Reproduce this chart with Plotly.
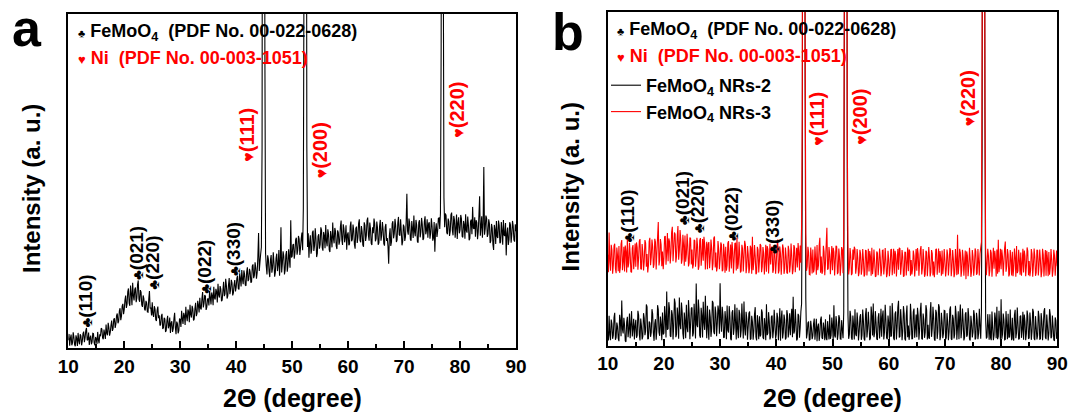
import plotly.graph_objects as go

FONT = "Liberation Sans, Arial, sans-serif"

# sampled 2-theta grid (degrees), 0.125 deg step from 10 to 90
TWO_THETA = [round(10 + 0.125 * i, 3) for i in range(641)]

# panel a : FeMoO4 NRs on Ni (a.u.), one row per 5 degrees
A_INTENSITY = [
    2.4,4.3, 0.8,3.0, 4.1,0.9, 1.6,4.8, 3.3,1.1, 0.6,3.9, 2.9,0.7, 4.6,2.3, 1.2,4.2, 3.7,0.9, 2.1,4.4, 5.0,1.8, 3.2,5.3, 6.1,2.4, 2.6,4.7, 1.0,3.1, 3.8,1.2, 1.9,4.5, 4.4,1.6, 0.9,3.4,
    2.8,1.3, 4.9,2.6, 1.5,4.2, 3.6,6.0, 5.8,3.1, 2.7,5.6, 4.4,2.8, 7.1,4.5, 3.9,7.6, 6.2,3.8, 4.8,6.9, 8.3,5.2, 5.9,8.7, 9.0,6.1, 7.2,9.8, 10.4,7.5, 8.1,11.2, 12.0,8.4, 9.6,12.6, 13.3,10.2,
    11.6,14.4, 15.8,12.1, 13.2,16.9, 17.9,13.5, 12.7,18.8, 16.4,12.9, 19.6,15.7, 14.3,17.6, 18.2,13.8, 15.0,19.1, 20.3,14.6, 13.9,17.4, 16.8,13.0, 12.4,15.8, 14.9,11.7, 11.3,14.2, 13.6,10.9, 10.8,14.7, 17.1,11.9, 12.2,9.8,
    13.8,10.2, 9.4,12.6, 11.7,8.6, 8.2,11.4, 12.5,9.0, 9.9,6.8, 7.1,9.6, 10.3,5.8, 6.2,9.1, 8.8,4.9, 5.4,8.3, 9.7,6.0, 6.8,9.2, 4.6,7.5, 8.1,4.9, 5.9,8.8, 10.6,6.3, 4.2,8.0, 7.4,4.5, 5.3,8.9,
    8.6,6.4, 11.2,8.9, 7.3,10.6, 9.8,7.0, 12.4,9.5, 8.1,11.6, 10.9,7.8, 13.0,10.1, 9.2,12.7, 11.8,8.3, 8.7,11.9, 13.6,9.6, 10.4,14.2, 12.9,10.7, 15.1,12.0, 11.6,14.8, 16.8,12.2, 13.4,15.9, 15.6,11.5, 12.3,14.7,
    14.9,12.8, 17.2,15.3, 13.1,16.7, 15.8,12.9, 18.4,15.1, 14.6,17.8, 16.9,13.7, 19.3,16.0, 15.2,18.6, 17.7,14.1, 14.4,17.3, 19.9,15.6, 16.3,20.8, 18.8,14.9, 15.7,18.9, 21.0,16.2, 17.4,20.5, 19.6,15.8, 16.6,19.1, 20.4,17.0,
    18.3,21.0, 21.7,17.9, 17.6,22.4, 20.9,18.5, 23.4,20.7, 19.2,23.3, 22.1,18.9, 18.7,22.9, 24.2,20.1, 20.6,23.8, 22.8,19.6, 19.9,24.6, 25.1,21.0, 21.8,25.7, 24.0,20.8, 22.6,27.4, 34.5,23.1, 25.8,28.2, 30.2,60, 260,280,
    240,90, 28.4,24.6, 22.1,27.8, 26.7,22.9, 21.3,26.5, 27.9,22.6, 24.0,28.7, 25.6,21.4, 22.8,27.0, 28.3,23.1, 24.9,29.4, 21.7,26.2, 36.2,22.7, 25.3,29.0, 27.6,22.1, 23.4,28.0, 29.1,22.9, 24.7,29.6, 26.8,24.1, 38.3,27.2,
    27.5,30.9, 31.2,26.8, 28.6,32.5, 33.1,28.0, 29.4,33.6, 32.7,27.9, 30.1,32.8, 34.6,29.3, 42.0,120, 250,270, 230,60, 30.3,34.4, 27.1,31.6, 33.8,28.3, 29.6,34.7, 35.2,29.1, 30.8,35.9, 32.9,27.3, 28.4,33.5, 34.1,29.8,
    31.0,36.2, 35.4,30.1, 29.2,34.8, 33.7,29.9, 36.9,32.0, 30.5,35.6, 34.2,29.4, 28.8,35.1, 33.0,30.2, 37.6,32.9, 31.4,36.0, 35.0,30.6, 29.7,35.3, 34.6,31.0, 32.1,36.4, 38.2,32.5, 30.9,37.1, 35.8,31.7, 33.3,36.8, 29.5,34.0,
    34.7,30.8, 31.2,36.5, 37.9,32.0, 32.6,37.0, 35.3,31.1, 29.8,35.9, 36.4,31.5, 33.1,37.4, 38.6,32.3, 31.7,36.6, 34.9,30.9, 30.4,37.7, 36.8,32.1, 33.6,38.2, 39.1,33.8, 32.2,37.6, 35.7,31.4, 30.9,36.2, 34.4,38.8, 37.3,32.0,
    32.8,37.9, 36.1,31.0, 31.5,36.6, 38.4,32.2, 33.9,37.8, 35.6,31.3, 30.7,36.3, 37.2,32.1, 33.0,30.4, 25.3,33.7, 35.9,30.6, 31.8,37.3, 38.0,32.9, 34.3,38.7, 36.7,31.8, 32.4,37.5, 39.3,34.0, 33.7,38.6, 35.1,30.8, 31.9,37.0,
    36.3,32.1, 33.4,38.0, 46.2,35.0, 34.0,38.8, 37.5,32.6, 32.2,38.1, 35.8,33.0, 39.7,34.9, 33.5,38.4, 36.9,32.0, 31.6,37.6, 38.3,33.2, 34.8,39.0, 37.1,32.4, 32.9,37.9, 39.5,34.1, 35.2,38.6, 33.1,37.2, 37.7,32.8, 34.5,38.9,
    36.6,32.2, 33.0,37.8, 28.9,35.5, 37.4,33.3, 35.1,38.9, 39.0,35.7, 40.5,90, 250,240, 120,45, 36.2,40.3, 39.8,34.6, 34.1,38.8, 37.9,33.6, 35.0,39.9, 40.6,35.3, 33.8,39.6, 38.4,33.1, 36.0,40.0, 32.7,37.6, 39.2,34.4,
    35.4,39.9, 38.7,33.5, 33.2,38.1, 37.0,32.8, 40.1,35.2, 34.6,39.4, 36.8,32.3, 32.9,38.0, 38.5,34.1, 42.3,36.0, 35.7,39.2, 33.4,38.3, 37.6,32.6, 34.9,39.8, 45.5,33.7, 36.3,39.5, 33.1,37.4, 54.2,34.0, 35.8,39.7, 38.9,33.3,
    34.2,38.6, 37.3,31.5, 32.1,37.2, 36.0,31.1, 29.4,36.9, 35.5,31.2, 38.1,33.4, 33.0,38.2, 36.7,31.4, 31.8,37.8, 35.2,31.0, 38.4,33.9, 33.6,37.5, 27.8,34.3, 36.1,30.9, 32.5,37.7, 37.0,31.6, 34.0,38.1, 36.6,32.4, 31.9,37.1,
    35.0,
]

# panel b : FeMoO4 NRs-2 (black)
B_NRS2 = [
    4.2,1.5, 8.9,3.2, 1.6,7.8, 6.5,2.0, 3.1,8.4, 9.8,1.7, 2.4,6.9, 5.7,2.1, 1.3,9.2, 7.4,2.8, 13.5,4.9, 3.6,8.3, 6.1,1.4, 1.1,7.0, 8.6,2.5, 4.8,9.6, 2.2,6.4, 10.3,2.7, 5.2,8.0, 1.8,6.0,
    7.7,2.3, 3.0,10.4, 9.1,3.4, 1.5,8.1, 5.9,1.8, 2.7,9.7, 8.2,3.1, 4.4,12.3, 11.6,1.9, 2.1,7.2, 6.8,2.6, 3.9,10.9, 9.5,3.8, 1.4,6.6, 7.9,1.7, 4.6,12.1, 10.8,4.0, 2.9,8.7, 6.3,1.6, 9.9,3.3,
    3.7,11.8, 8.4,2.4, 16.2,4.7, 5.1,13.0, 11.0,2.9, 2.6,10.6, 9.3,1.8, 6.0,14.1, 12.7,2.5, 3.3,11.4, 8.8,2.0, 14.4,6.3, 4.9,12.9, 10.1,3.6, 1.9,9.9, 7.5,2.2, 12.2,5.3, 4.0,13.6, 9.6,1.9, 6.4,11.2,
    11.4,2.7, 3.8,12.5, 8.0,2.1, 18.6,6.2, 5.5,13.8, 10.7,3.0, 2.3,11.3, 9.0,2.4, 13.1,6.8, 4.7,14.9, 7.2,2.2, 11.9,5.4, 1.7,10.8, 8.5,2.6, 5.0,13.4, 12.8,4.1, 3.4,11.7, 9.7,2.8, 6.6,12.0, 10.4,3.5,
    18.7,7.4, 4.1,11.6, 9.2,2.3, 2.5,10.3, 7.8,1.9, 12.0,4.6, 3.9,11.8, 8.7,2.0, 1.6,9.9, 10.6,3.2, 5.3,12.4, 7.0,1.8, 11.3,4.7, 2.2,10.7, 9.4,2.4, 4.5,12.6, 6.9,2.1, 13.2,5.0, 3.0,10.1, 8.1,1.7,
    5.6,9.6, 10.2,1.8, 2.0,8.9, 7.1,1.7, 4.3,9.4, 11.5,2.6, 1.5,9.1, 6.4,1.9, 8.8,2.7, 3.2,10.8, 9.9,2.4, 1.9,8.2, 5.8,1.6, 12.4,3.1, 3.7,10.0, 7.3,1.8, 2.8,8.6, 9.0,2.2, 4.6,10.7, 6.7,2.0,
    3.4,9.8, 8.3,1.6, 5.9,11.2, 1.4,7.9, 10.5,2.1, 4.0,9.3, 7.6,1.8, 2.3,10.6, 9.1,2.4, 5.0,9.7, 3.1,8.0, 11.0,2.5, 14.6,3.6, 4.4,10.9, 6.8,1.5, 2.0,9.5, 8.9,2.3, 5.3,10.2, 12.5,50, 250,280,
    240,80, 14.0,2.1, 3.6,6.8, 7.2,1.5, 1.8,7.4, 5.4,1.9, 2.9,6.5, 8.1,1.7, 4.5,8.0, 1.3,5.6, 6.6,1.4, 3.2,7.7, 8.7,2.3, 2.0,6.9, 5.1,1.6, 7.9,2.2, 1.6,7.3, 4.3,1.8, 9.3,2.0, 3.0,8.4,
    5.8,1.6, 12.1,3.0, 2.4,8.8, 6.9,1.7, 3.5,9.1, 8.2,2.0, 1.9,7.6, 4.7,2.2, 10.0,110, 250,270, 230,50, 9.2,2.0, 3.3,10.4, 8.6,2.3, 1.7,9.0, 6.2,1.8, 10.9,3.4, 2.8,9.9, 7.0,1.5, 4.1,8.5,
    9.4,1.7, 3.1,10.8, 7.5,2.0, 1.5,9.3, 11.2,2.4, 4.9,10.1, 6.3,1.6, 2.2,11.7, 8.9,3.0, 12.6,2.5, 3.8,10.3, 7.0,1.9, 1.8,8.4, 9.7,2.1, 5.2,11.0, 2.6,8.7, 10.5,1.8, 4.0,12.2, 7.8,2.3, 1.9,9.0,
    6.7,1.9, 11.9,2.6, 3.0,12.7, 8.4,2.2, 1.6,9.5, 10.2,1.8, 5.5,11.4, 13.4,2.4, 2.7,10.9, 7.3,1.6, 4.2,11.8, 9.6,2.0, 1.5,8.9, 12.0,2.5, 6.0,1.7, 3.4,12.5, 8.8,1.9, 2.1,10.0, 11.1,2.3, 5.0,9.3,
    2.5,11.3, 9.0,1.7, 4.6,10.4, 12.8,2.1, 1.8,9.6, 7.7,2.3, 3.9,12.1, 10.6,1.8, 6.2,2.4, 2.0,9.9, 13.0,2.6, 5.1,11.6, 8.2,1.9, 1.4,10.7, 9.8,2.0, 4.3,12.4, 11.5,1.6, 2.9,9.8, 7.1,2.2, 3.6,10.5,
    10.4,1.8, 2.3,9.7, 6.9,1.6, 4.1,10.8, 11.7,2.0, 1.7,9.2, 8.0,2.1, 3.5,11.9, 9.3,1.7, 5.6,10.3, 1.9,8.6, 12.3,2.2, 4.8,11.1, 7.4,1.5, 2.4,9.4, 10.0,2.6, 3.2,11.2, 8.5,1.9, 1.5,8.9, 6.6,2.4,
    4.0,10.6, 9.1,1.8, 2.2,9.8, 7.6,1.9, 3.7,11.0, 5.8,2.0, 10.2,60, 250,280, 200,70, 7.9,2.1, 2.5,9.4, 6.0,1.7, 9.4,2.3, 1.6,10.2, 5.3,1.6, 3.0,9.9, 8.1,2.2, 11.6,1.9, 2.7,10.4, 6.4,1.8,
    13.9,2.0, 3.3,9.6, 7.7,1.7, 1.8,10.3, 5.9,1.9, 9.5,2.4, 2.6,10.8, 4.4,1.6, 8.3,2.1, 1.5,9.1, 10.7,2.2, 3.9,11.4, 6.5,1.8, 2.1,8.7, 9.0,2.3, 4.7,10.1, 1.7,9.3, 7.2,1.6, 3.6,10.5, 8.8,2.0,
    2.3,9.9, 6.9,1.7, 4.2,11.0, 10.1,2.1, 1.6,8.8, 5.5,1.8, 3.1,10.4, 8.6,1.9, 2.0,9.7, 7.3,1.6, 4.8,10.2, 11.2,2.4, 1.9,9.3, 6.0,1.5, 3.5,10.9, 9.2,2.2, 2.6,9.0, 5.8,1.7, 1.4,8.4, 7.5,2.0,
    3.9,
]

# panel b : FeMoO4 NRs-3 (red)
B_NRS3 = [
    27.2,22.0, 33.9,25.1, 22.4,30.2, 28.6,21.5, 24.1,29.9, 30.5,23.0, 21.7,29.4, 26.9,22.3, 29.8,21.8, 23.3,30.4, 31.6,22.6, 25.0,29.6, 22.2,30.0, 28.1,21.9, 32.4,23.4, 24.7,30.8, 27.5,22.1, 21.9,29.2, 30.1,22.9, 25.8,30.6,
    23.6,30.9, 29.4,22.7, 26.2,31.3, 31.9,23.0, 22.8,30.4, 28.0,22.5, 25.1,31.6, 30.7,23.6, 27.4,21.9, 23.9,31.2, 32.3,24.1, 26.5,31.8, 29.7,23.3, 24.4,32.0, 31.0,22.8, 27.8,32.5, 37.0,24.0, 25.6,31.9, 30.3,23.8, 28.2,22.9,
    26.1,32.6, 32.8,24.2, 28.0,33.7, 25.3,32.1, 31.2,24.6, 27.6,34.0, 35.6,25.3, 29.1,33.9, 33.4,24.9, 26.7,32.8, 35.8,25.7, 28.5,34.6, 31.7,24.5, 25.9,33.2, 30.2,23.9, 33.0,25.1, 27.3,33.5, 29.9,23.7, 24.8,32.4, 32.1,24.3,
    28.8,23.1, 24.2,31.7, 31.4,23.6, 26.6,32.3, 29.5,22.7, 23.8,31.5, 32.2,23.9, 27.0,31.9, 25.4,32.6, 30.6,22.8, 28.3,31.1, 22.9,30.4, 31.0,23.2, 26.1,31.8, 29.2,22.6, 24.6,32.2, 32.7,23.4, 27.9,22.2, 23.5,31.3, 28.9,22.9,
    25.7,30.9, 30.2,22.3, 22.6,30.5, 27.8,21.8, 29.6,22.4, 24.0,30.7, 31.3,22.1, 26.2,30.3, 23.1,31.0, 28.4,21.6, 25.9,30.6, 30.8,22.5, 32.4,23.0, 24.5,31.1, 27.1,21.9, 22.4,30.2, 29.0,22.2, 26.6,31.4, 30.1,21.7, 23.7,29.8,
    27.4,21.7, 23.2,29.9, 29.3,21.5, 32.6,22.6, 24.8,30.1, 26.9,21.4, 21.8,29.6, 28.7,21.9, 25.3,30.4, 30.0,22.0, 23.6,29.5, 27.7,21.3, 25.0,30.2, 22.1,29.8, 28.9,21.6, 26.0,30.5, 24.3,29.2, 29.7,21.8, 22.7,30.0, 27.2,21.5,
    24.9,29.8, 31.8,21.6, 22.5,29.7, 27.6,21.2, 25.4,30.3, 29.1,21.5, 23.0,29.4, 26.8,21.8, 21.7,29.9, 28.5,21.9, 24.2,30.6, 27.0,21.4, 22.8,30.1, 29.4,22.0, 25.6,29.3, 23.4,30.7, 27.9,22.5, 30.0,24.8, 36.0,70, 260,290,
    250,95, 33.5,22.4, 23.7,29.6, 27.9,21.3, 21.2,29.4, 26.3,21.6, 28.8,21.9, 22.9,29.7, 25.8,21.2, 30.1,22.6, 24.0,30.0, 32.3,21.8, 26.7,21.5, 22.2,29.9, 28.1,21.1, 24.6,30.3, 35.3,22.7, 23.1,29.5, 27.3,21.4, 25.5,29.8,
    22.6,29.3, 28.0,21.0, 25.2,29.9, 29.6,21.4, 21.9,29.1, 26.5,20.9, 24.1,29.5, 28.7,21.7, 33.0,120, 250,280, 240,65, 30.5,21.3, 23.4,29.2, 27.0,21.1, 21.6,28.8, 25.7,29.6, 28.9,21.5, 23.3,28.9, 26.2,20.8, 22.0,28.7,
    27.5,21.2, 23.0,28.9, 25.9,20.7, 21.3,28.6, 28.4,21.0, 24.6,29.0, 22.2,28.3, 26.8,20.9, 29.3,21.4, 23.6,28.8, 25.1,20.6, 20.8,28.2, 27.7,21.1, 24.0,29.1, 26.4,20.8, 22.5,28.5, 28.6,21.3, 23.8,29.2, 25.4,20.5, 21.6,28.4,
    26.0,20.8, 23.1,28.7, 28.9,21.1, 24.4,29.0, 21.5,28.4, 27.2,20.7, 25.0,28.9, 22.7,29.3, 29.1,21.2, 23.9,28.6, 26.6,20.6, 20.9,28.1, 27.9,21.0, 24.8,29.4, 22.3,28.8, 28.2,20.9, 25.6,21.3, 23.0,28.5, 26.9,20.7, 24.1,28.9,
    22.4,29.2, 27.4,20.9, 24.9,28.7, 29.8,21.3, 23.2,28.9, 25.7,20.6, 21.4,28.4, 28.0,20.8, 24.3,29.5, 26.5,20.7, 22.0,28.6, 27.6,21.0, 25.2,20.5, 23.5,28.8, 29.0,21.2, 24.7,29.1, 21.8,28.3, 26.3,20.9, 28.5,21.4, 23.7,28.9,
    25.5,20.7, 22.8,28.8, 27.1,21.0, 24.2,29.2, 28.6,20.8, 23.3,28.6, 26.0,20.5, 21.6,28.9, 25.3,21.1, 33.2,21.4, 24.0,29.0, 27.8,20.6, 22.6,28.7, 26.4,20.9, 24.8,28.5, 19.9,28.2, 27.0,20.8, 23.6,29.3, 25.8,20.6, 22.1,28.6,
    26.7,20.9, 23.4,29.1, 28.2,21.2, 21.7,28.9, 25.0,21.0, 27.5,29.4, 31.0,90, 250,290, 200,75, 28.6,21.1, 24.3,29.0, 26.9,20.8, 22.5,28.7, 27.7,20.6, 24.9,29.3, 23.0,28.4, 26.1,20.7, 28.8,21.5, 31.7,22.0, 24.2,29.0,
    22.9,28.8, 26.6,20.9, 25.1,29.2, 31.2,22.1, 23.7,28.9, 27.3,20.7, 21.5,28.6, 25.9,21.0, 28.1,20.8, 23.2,29.1, 26.4,20.6, 29.8,21.7, 22.4,28.7, 25.6,21.2, 27.9,20.9, 24.5,29.0, 21.9,28.5, 26.8,20.8, 23.6,29.4, 28.3,21.1,
    25.3,20.8, 22.6,28.9, 27.4,20.6, 24.0,29.1, 26.7,20.9, 21.8,28.7, 28.5,21.0, 23.9,28.8, 25.6,20.5, 22.2,29.0, 27.2,20.7, 24.8,28.6, 20.9,28.4, 26.1,20.8, 28.0,21.2, 23.3,28.9, 25.9,20.6, 22.7,28.7, 27.0,20.9, 24.4,28.5,
    23.8,
]

assert len(A_INTENSITY) == len(B_NRS2) == len(B_NRS3) == len(TWO_THETA)

X_TICKS = [10, 20, 30, 40, 50, 60, 70, 80, 90]

# reflection labels (hkl), their 2-theta and label height (a.u.)
FEMO_HKL = ["(110)", "(021)", "(220)", "(022)", "(330)"]
A_FEMO_X = [13.0, 22.1, 24.9, 34.2, 39.5]
A_FEMO_Y = [14.0, 28.5, 25.5, 24.3, 29.8]
B_FEMO_X = [13.5, 23.3, 25.9, 32.0, 39.2]
B_FEMO_Y = [38.8, 44.3, 41.8, 39.5, 35.5]

NI_HKL = ["(111)", "(200)", "(220)"]
A_NI_X = [42.0, 54.9, 79.3]
A_NI_Y = [64.0, 59.1, 71.4]
B_NI_X = [47.3, 54.9, 74.1]
B_NI_Y = [68.1, 68.6, 74.1]

REF_FEMO = "FeMoO<sub>4</sub>\u00a0\u00a0(PDF No. 00-022-0628)"
REF_NI = "Ni\u00a0\u00a0(PDF No. 00-003-1051)"
SERIES_B = ["FeMoO<sub>4</sub> NRs-2", "FeMoO<sub>4</sub> NRs-3"]

RED = "#ff0000"
W, H = 1068, 416
A_DOM_X = [68.3 / W, 516 / W]
A_DOM_Y = [1 - 348.3 / H, 1 - 14 / H]
B_DOM_X = [607.7 / W, 1057.3 / W]
B_DOM_Y = [1 - 345.5 / H, 1 - 12 / H]

fig = go.Figure()
fig.add_trace(go.Scatter(x=TWO_THETA, y=A_INTENSITY, mode="lines",
                         line=dict(color="black", width=1.1, simplify=False), showlegend=False,
                         xaxis="x", yaxis="y"))
fig.add_trace(go.Scatter(x=TWO_THETA, y=B_NRS2, mode="lines", name=SERIES_B[0],
                         line=dict(color="black", width=1.1, simplify=False), legendgroup="g1",
                         xaxis="x2", yaxis="y2"))
fig.add_trace(go.Scatter(x=TWO_THETA, y=B_NRS3, mode="lines", name=SERIES_B[1],
                         line=dict(color=RED, width=1.1, simplify=False), legendgroup="g2",
                         xaxis="x2", yaxis="y2"))

def xaxis_cfg(dom, anchor):
    return dict(domain=dom, anchor=anchor, range=[10, 90], tickvals=X_TICKS,
                ticks="inside", ticklen=7, tickwidth=2, tickcolor="black",
                minor=dict(dtick=5, tick0=5, ticks="inside", ticklen=4, tickwidth=2, tickcolor="black"),
                showline=True, linewidth=2, linecolor="black", mirror=True,
                showgrid=False, zeroline=False, automargin=False,
                tickfont=dict(family=FONT, size=19, color="black", weight="bold"))

def yaxis_cfg(dom, anchor):
    return dict(domain=dom, anchor=anchor, range=[0, 100], showticklabels=False,
                ticks="", showline=True, linewidth=2, linecolor="black", mirror=True,
                showgrid=False, zeroline=False, automargin=False)

fig.update_layout(
    width=W, height=H, margin=dict(l=0, r=0, t=0, b=0, autoexpand=False),
    paper_bgcolor="white", plot_bgcolor="white",
    xaxis=xaxis_cfg(A_DOM_X, "y"), yaxis=yaxis_cfg(A_DOM_Y, "x"),
    xaxis2=xaxis_cfg(B_DOM_X, "y2"), yaxis2=yaxis_cfg(B_DOM_Y, "x2"),
    showlegend=True,
    legend=dict(x=606 / W, y=1 - 67 / H, xanchor="left", yanchor="top",
                bgcolor="rgba(0,0,0,0)", borderwidth=0, itemwidth=30,
                tracegroupgap=10, traceorder="normal",
                font=dict(family=FONT, size=18, color="black", weight="bold")),
)

ann = []
def txt(text, x, y, xref, yref, size, color="black", angle=0, xanchor="center", yanchor="middle"):
    ann.append(dict(text=text, x=x, y=y, xref=xref, yref=yref, showarrow=False,
                    textangle=angle, xanchor=xanchor, yanchor=yanchor,
                    font=dict(family=FONT, size=size, color=color, weight="bold")))

# panel letters
txt("a", 27 / W, 1 - 28 / H, "paper", "paper", 52)
txt("b", 567.5 / W, 1 - 32 / H, "paper", "paper", 52)
# axis titles
for cx, cy, tx in [(31, 189, 292), (570.4, 187, 832.5)]:
    txt("Intensity (a. u.)", cx / W, 1 - cy / H, "paper", "paper", 24, angle=-90)
    txt("2\u0398 (degree)", tx / W, 1 - 398 / H, "paper", "paper", 25)

CLUB_S = '<span style="font-size:11px">\u2663</span> '
HEART_S = '<span style="font-size:13px">\u2665</span> '
CLUB_L = '<span style="font-size:15px">\u2663</span>'
HEART_L = '<span style="font-size:16px">\u2665</span>'

for xr, yr in [("x", "y"), ("x2", "y2")]:
    txt(CLUB_S + REF_FEMO, 11.3, 94.5, xr, yr, 18, xanchor="left")
    txt(HEART_S + REF_NI, 11.3, 86.7, xr, yr, 18, color=RED, xanchor="left")

for lab, x, y in zip(FEMO_HKL, A_FEMO_X, A_FEMO_Y):
    txt(CLUB_L + lab, x, y, "x", "y", 19, angle=-90)
for lab, x, y in zip(FEMO_HKL, B_FEMO_X, B_FEMO_Y):
    txt(CLUB_L + lab, x, y, "x2", "y2", 19, angle=-90)
for lab, x, y in zip(NI_HKL, A_NI_X, A_NI_Y):
    txt(HEART_L + lab, x, y, "x", "y", 20, color=RED, angle=-90)
for lab, x, y in zip(NI_HKL, B_NI_X, B_NI_Y):
    txt(HEART_L + lab, x, y, "x2", "y2", 20, color=RED, angle=-90)

fig.update_layout(annotations=ann)
# remove the browser's default 8px page margin so the figure sits at the window origin
fig.write_html("out.html", config={"displayModeBar": False},
               post_script="document.body.style.margin='0px';")
